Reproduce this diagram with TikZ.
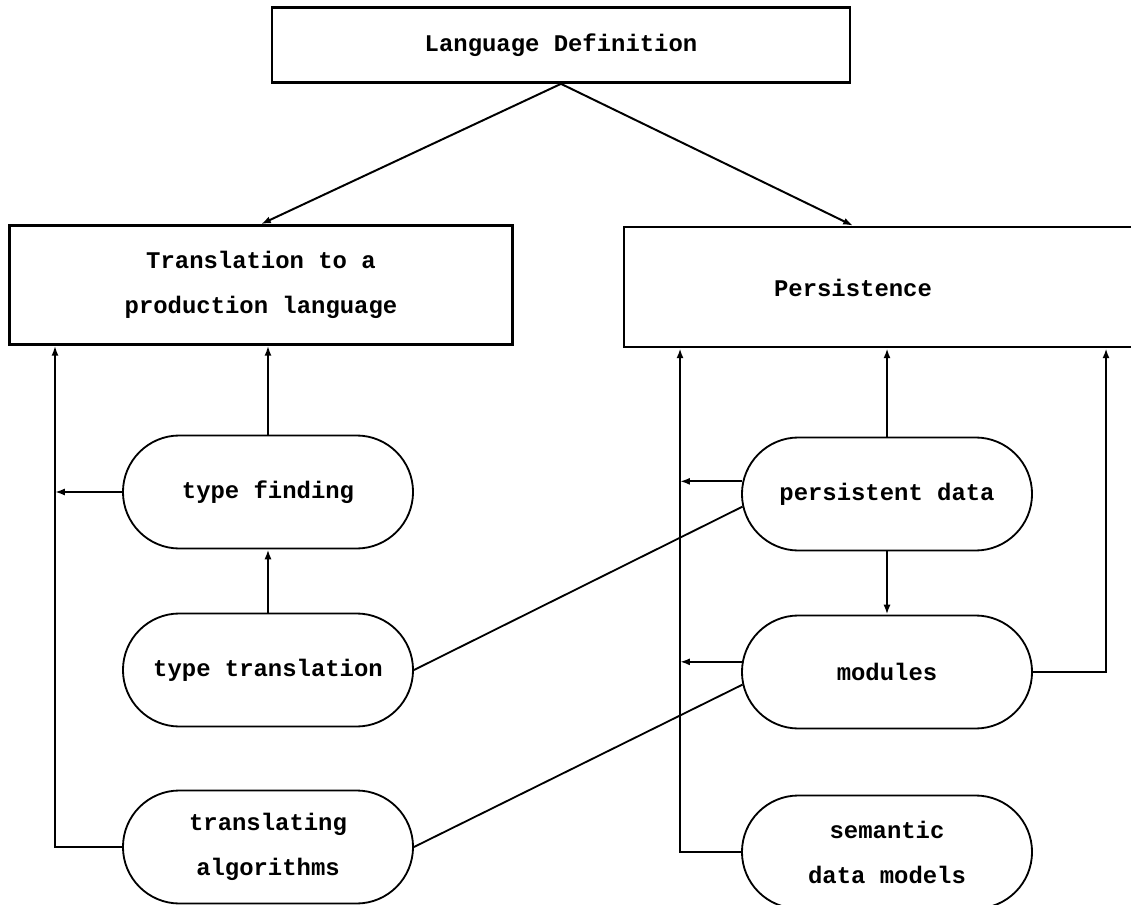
\documentclass[tikz,border=0pt]{standalone}
\usepackage{fontspec}
\setmonofont{Liberation Mono}
\usepackage{tikz}
\usetikzlibrary{positioning}
\usetikzlibrary{shapes.misc}
\usetikzlibrary{arrows.meta}

\begin{document}
\begin{tikzpicture}[x=0.025cm, y=-0.025cm,
  every node/.style={font=\ttfamily\bfseries\fontsize{17}{32}\selectfont, align=center},
  box/.style={draw, line width=1.9pt, inner sep=0pt},
  pill/.style={draw, rounded rectangle, line width=1.3pt, minimum width=7.25cm, minimum height=2.825cm, inner sep=0pt},
  arr/.style={-{Latex[length=7pt,width=5pt]}, line width=1.4pt},
  link/.style={line width=1.3pt}]

\useasboundingbox (0,0) rectangle (1131,905);

% Draw the boxes
\node[box, minimum width=14.45cm, minimum height=1.875cm] (lang) at (561,45) {Language Definition};
\node[box, minimum width=12.575cm, minimum height=2.975cm] (trans) at (261,285) {Translation to a\\production language};
\node[box, minimum width=12.9cm, minimum height=3cm] (pers) at (882,287) {};
\node (perslabel) at (853,288) {Persistence};

% Draw the pills
\foreach \name/\xpos/\ypos/\txt in {tf/268/492/{type finding}, tt/268/670/{type translation}, ta/268/847/{translating\\algorithms}, pd/887/494/{persistent data}, md/887/672/{modules}, sd/887/852/{semantic\\data models}}
{
  \node[pill] (\name) at (\xpos,\ypos) {\txt};
}

% Bus lines
\coordinate (lbus) at (55,0);
\coordinate (mbus) at (680,0);
\coordinate (rbus) at (1106,0);

% Draw the arrows from the top box
\draw[arr] (lang.south) -- (trans.north);
\draw[arr] (lang.south) -- (perslabel |- pers.north);

% Left side
\draw[arr] (tf.north) -- (tf.north |- trans.south);
\draw[arr] (tt.north) -- (tf.south);
\draw[arr] (tf.west) -- (lbus |- tf.west);
\draw[arr] (ta.west) -| (lbus |- trans.south);

% Right side
\draw[arr] (pd.north) -- (pd.north |- pers.south);
\draw[arr] (pd.south) -- (md.north);
\draw[arr] (pd.175) -- (mbus |- pd.175);
\draw[arr] (md.176) -- (mbus |- md.176);
\draw[arr] (md.east) -| (rbus |- pers.south);
\draw[arr] (sd.west) -| (mbus |- pers.south);

% Cross links
\draw[link] (tt.east) -- (pd.185);
\draw[link] (ta.east) -- (md.185);

\end{tikzpicture}
\end{document}
